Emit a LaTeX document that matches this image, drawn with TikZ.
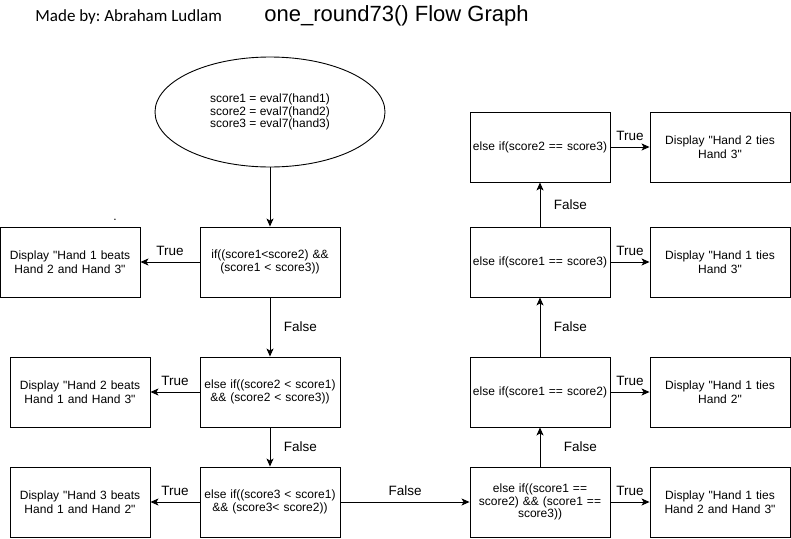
\documentclass[tikz,border=0pt]{standalone}
\usepackage{fontspec}
\setmainfont{Liberation Sans}[Ligatures=TeXOff]
\newfontfamily\madefont{Carlito}
\usetikzlibrary{arrows.meta,positioning,shapes.geometric}
\frenchspacing

\begin{document}
\begin{tikzpicture}[>={Stealth[length=8pt,width=7pt,inset=2pt]}, x=1pt, y=-1pt, line width=0.9pt,
    condbox/.style={draw, minimum width=140pt, minimum height=70pt, inner sep=1pt,
        text width=138pt, align=center, font=\fontsize{12}{12.3}\selectfont},
    showbox/.style={condbox, font=\fontsize{12}{14}\selectfont},
    lbl/.style={font=\fontsize{13.5}{16}\selectfont}]

        \useasboundingbox (0,0) rectangle (791,538);

        % Headings
        \node[anchor=base west, inner sep=0, font=\madefont\fontsize{17}{20}\selectfont] (made) at (35,21) {Made by: Abraham Ludlam};
        \node[anchor=base west, inner sep=0, font=\fontsize{22}{26}\selectfont] (title) at (264,21) {one\_round73() Flow Graph};
        \node[anchor=base, inner sep=0, font=\fontsize{12}{14}\selectfont] (dot) at (115,220) {.};

        % Nodes
        \node[draw, ellipse, minimum width=230pt, minimum height=110pt, align=center,
            font=\fontsize{12}{12.3}\selectfont] (start) at (270,112)
            {score1 = eval7(hand1)\\score2 = eval7(hand2)\\score3 = eval7(hand3)};
        \node[condbox] (ifone) at (270,262) {if((score1<score2) \&\&\\(score1 < score3))};
        \node[condbox] (iftwo) at (270,392) {else if((score2 < score1)\\\&\& (score2 < score3))};
        \node[condbox] (ifthree) at (270,502) {else if((score3 < score1)\\\&\& (score3< score2))};
        \node[showbox] (onewins) at (70,262) {Display "Hand 1 beats\\Hand 2 and Hand 3"};
        \node[showbox] (twowins) at (80,392) {Display "Hand 2 beats\\Hand 1 and Hand 3"};
        \node[showbox] (threewins) at (80,502) {Display "Hand 3 beats\\Hand 1 and Hand 2"};

        \node[condbox] (ifall) at (540,502) {else if((score1 ==\\score2) \&\& (score1 ==\\score3))};
        \node[condbox] (ifonetwo) at (540,392) {else if(score1 == score2)};
        \node[condbox] (ifonethree) at (540,262) {else if(score1 == score3)};
        \node[condbox] (iftwothree) at (540,147) {else if(score2 == score3)};
        \node[showbox] (tieall) at (720,502) {Display "Hand 1 ties\\Hand 2 and Hand 3"};
        \node[showbox] (tieonetwo) at (720,392) {Display "Hand 1 ties\\Hand 2"};
        \node[showbox] (tieonethree) at (720,262) {Display "Hand 1 ties\\Hand 3"};
        \node[showbox] (tietwothree) at (720,147) {Display "Hand 2 ties\\Hand 3"};

        % Arrows
        \draw[->] (start) -- (ifone);
        \draw[->] (ifone) -- node[lbl, above=3pt] {True} (onewins);
        \draw[->] (ifone) -- node[lbl, right=10pt] {False} (iftwo);
        \draw[->] (iftwo) -- node[lbl, above=3pt] {True} (twowins);
        \draw[->] (iftwo) -- node[lbl, right=10pt] {False} (ifthree);
        \draw[->] (ifthree) -- node[lbl, above=3pt] {True} (threewins);
        \draw[->] (ifthree) -- node[lbl, above=3pt] {False} (ifall);
        \draw[->] (ifall) -- node[lbl, above=3pt] {True} (tieall);
        \draw[->] (ifall) -- node[lbl, right=20pt] {False} (ifonetwo);
        \draw[->] (ifonetwo) -- node[lbl, above=3pt] {True} (tieonetwo);
        \draw[->] (ifonetwo) -- node[lbl, right=10pt] {False} (ifonethree);
        \draw[->] (ifonethree) -- node[lbl, above=3pt] {True} (tieonethree);
        \draw[->] (ifonethree) -- node[lbl, right=10pt] {False} (iftwothree);
        \draw[->] (iftwothree) -- node[lbl, above=3pt] {True} (tietwothree);

    \end{tikzpicture}
\end{document}
